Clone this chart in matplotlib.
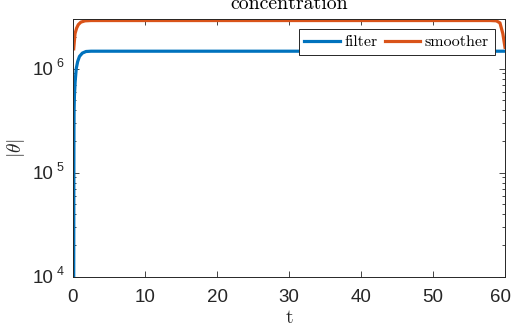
import matplotlib
matplotlib.use('Agg')
from matplotlib import pyplot as plt
from matplotlib.ticker import FixedLocator, FixedFormatter, LogLocator, NullFormatter
from matplotlib.transforms import blended_transform_factory, ScaledTranslation

# data
t_filter = [0.1, 0.11, 0.12, 0.13, 0.15, 0.2, 0.3, 0.45, 0.65, 0.9, 1.3, 1.8, 2.5, 60.0]
v_filter = [1.0e4, 4.0e4, 1.2e5, 2.5e5, 4.0e5, 5.5e5, 7.5e5, 1.0e6, 1.17e6, 1.31e6, 1.41e6, 1.46e6, 1.47e6, 1.47e6]

t_smooth = [0.1, 0.28, 0.5, 0.74, 1.1, 1.67, 2.5, 58.0, 58.8, 59.3, 59.7, 60.0]
v_smooth = [1.55e6, 2.17e6, 2.45e6, 2.65e6, 2.8e6, 2.88e6, 2.9e6, 2.9e6, 2.88e6, 2.75e6, 2.17e6, 1.6e6]

xticks = [0, 10, 20, 30, 40, 50, 60]
yticks = [1e4, 1e5, 1e6]
yexponents = ['4', '5', '6']

plt.rcParams['font.family'] = 'Liberation Sans'

axis_color = '#262626'

fig = plt.figure(figsize=(5.13, 3.29), dpi=100)
ax = fig.add_axes([73 / 513, 1 - 276.5 / 329, 432 / 513, 257.5 / 329])

ax.plot(t_filter, v_filter, color='#0072BD', lw=2.3, label='filter')
ax.plot(t_smooth, v_smooth, color='#D95319', lw=2.3, label='smoother')

ax.set_yscale('log')
ax.set_xlim(0, 60)
ax.set_ylim(1e4, 3e6)
ax.xaxis.set_major_locator(FixedLocator(xticks))
ax.yaxis.set_major_locator(FixedLocator(yticks))
ax.yaxis.set_major_formatter(FixedFormatter(['10'] * len(yticks)))
ax.yaxis.set_minor_locator(LogLocator(base=10, subs=range(2, 10)))
ax.yaxis.set_minor_formatter(NullFormatter())

ax.tick_params(axis='both', which='both', direction='in', top=True, right=True,
               color=axis_color, labelcolor=axis_color, labelsize=13.5, width=0.6)
ax.tick_params(axis='both', which='major', length=4)
ax.tick_params(axis='y', which='minor', length=2.2)
ax.tick_params(axis='x', pad=9)
ax.tick_params(axis='y', pad=14.4)

# exponents of the y tick labels, MATLAB style
trans = blended_transform_factory(ax.transAxes, ax.transData)
for val, exp in zip(yticks, yexponents):
    ax.text(0, val, exp, fontsize=9, color=axis_color, ha='left', va='center',
            transform=trans + ScaledTranslation(-11.7 / 72, 3.5 / 72, fig.dpi_scale_trans))

# keep the last x tick label inside the figure
fig.canvas.draw()
last = ax.get_xticklabels()[-1]
last.set_transform(last.get_transform() + ScaledTranslation(-3 / 72, 0, fig.dpi_scale_trans))

for spine in ['top', 'bottom', 'left', 'right']:
    ax.spines[spine].set_linewidth(0.7)
    ax.spines[spine].set_color(axis_color)

ax.set_xlabel('t', family='cmr10', fontsize=14, color=axis_color, labelpad=2)
ax.set_ylabel(r'$|\theta|$', math_fontfamily='cm', fontsize=14, color=axis_color, labelpad=4)
ax.set_title('concentration', family='cmr10', fontsize=14.3, color='black', pad=7)

legend = ax.legend(loc='upper right', ncol=2, prop={'family': 'cmr10', 'size': 11.5},
                   handlelength=2.2, handletextpad=0.3, columnspacing=0.45,
                   borderpad=0.35, borderaxespad=0.65, fancybox=False,
                   edgecolor=axis_color, framealpha=1)
legend.get_frame().set_linewidth(0.7)

fig.savefig('out.png', dpi=100)
